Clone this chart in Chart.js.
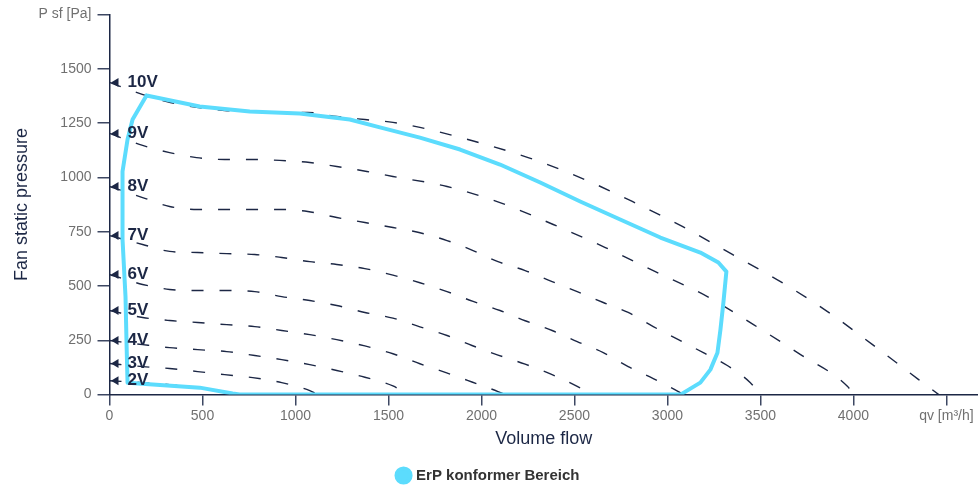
<!DOCTYPE html>
<html>
<head>
<meta charset="utf-8">
<script src="https://cdn.jsdelivr.net/npm/chart.js@4.4.1/dist/chart.umd.min.js"></script>
<style>
  html, body { margin: 0; padding: 0; background: #ffffff; }
  #wrap { width: 978px; height: 487px; position: relative; }
</style>
</head>
<body>
<div id="wrap"><canvas id="c"></canvas></div>
<script>
// ---- data (volume flow m³/h, static pressure Pa) ----
const curveLabels = ['2V', '3V', '4V', '5V', '6V', '7V', '8V', '9V', '10V'];
const curve2V = [[0,64],[178,55],[323,46],[474,32],[600,14],[680,0]];
const curve3V = [[0,143],[178,129],[323,120],[474,106],[619,92],[770,78],[926,55],[1077,18],[1120,0]];
const curve4V = [[0,249],[178,230],[323,216],[474,207],[630,198],[781,180],[926,161],[1077,138],[1222,111],[1373,80],[1524,40],[1605,0]];
const curve5V = [[0,387],[178,355],[323,341],[474,332],[630,322],[781,313],[926,295],[1077,276],[1222,253],[1373,224],[1524,188],[1669,142],[1813,100],[1949,58],[2089,14],[2127,0]];
const curve6V = [[0,553],[178,507],[323,484],[474,479],[630,479],[781,474],[926,451],[1077,433],[1222,410],[1373,378],[1524,352],[1669,312],[1815,272],[1949,226],[2089,182],[2235,140],[2380,92],[2515,38],[2596,0]];
const curve7V = [[0,732],[178,691],[323,659],[474,654],[630,649],[781,645],[926,631],[1077,612],[1222,599],[1373,580],[1524,550],[1669,515],[1815,474],[1955,429],[2100,387],[2235,340],[2380,295],[2515,244],[2655,193],[2789,129],[2924,74],[3059,14],[3086,0]];
const curve8V = [[0,958],[178,907],[323,866],[474,852],[630,852],[770,852],[926,852],[1066,843],[1222,815],[1373,792],[1524,769],[1664,746],[1815,709],[1955,663],[2089,612],[2235,571],[2380,520],[2515,474],[2655,424],[2789,378],[2924,313],[3059,253],[3193,193],[3322,134],[3446,55],[3500,0]];
const curve9V = [[0,1202],[178,1147],[323,1114],[468,1091],[619,1082],[770,1082],[915,1078],[1077,1068],[1222,1050],[1384,1027],[1524,1004],[1815,958],[2111,880],[2386,783],[2666,677],[2935,566],[3215,451],[3463,322],[3716,184],[3969,37],[4001,0]];
const curve10V = [[0,1437],[145,1391],[307,1349],[468,1322],[619,1308],[770,1303],[915,1299],[1066,1299],[1222,1280],[1373,1266],[1524,1253],[1669,1230],[1966,1165],[2251,1091],[2531,999],[2811,889],[3080,774],[3349,645],[3608,520],[3861,382],[4103,230],[4351,69],[4459,0]];
const erpLabel = 'ErP konformer Bereich';
const erpArea = [[199,1377],[124,1266],[97,1174],[70,1027],[70,714],[86,451],[92,221],[97,55],[485,32],[662,5],[700,0],[3070,0],[3177,55],[3231,115],[3269,193],[3285,299],[3301,424],[3317,566],[3274,608],[3177,654],[2962,723],[2746,806],[2531,889],[2316,976],[2100,1059],[1885,1128],[1669,1183],[1454,1230],[1292,1266],[1023,1294],[754,1303],[485,1326],[199,1377]];
const xTickValues = [0, 500, 1000, 1500, 2000, 2500, 3000, 3500, 4000, 4500];
const yTickValues = [0, 250, 500, 750, 1000, 1250, 1500, 1750];
const xTitle = 'Volume flow';
const yTitle = 'Fan static pressure';
const xUnitTick = 'qv [m³/h]';
const yUnitTick = 'P sf [Pa]';
const xUnitValue = 4500;
const yUnitValue = 1750;

const curves = [curve2V, curve3V, curve4V, curve5V, curve6V, curve7V, curve8V, curve9V, curve10V];

const NAVY = '#1c2745';
const CYAN = '#5cdcfd';
const FONT = '"Liberation Sans", Arial, sans-serif';

const toXY = arr => arr.map(p => ({ x: p[0], y: p[1] }));

const datasets = [{
  label: erpLabel,
  data: toXY(erpArea),
  showLine: true,
  borderColor: CYAN,
  backgroundColor: CYAN,
  borderWidth: 4,
  pointRadius: 0,
  tension: 0,
  fill: false,
  order: 0,
  borderJoinStyle: 'round',
  borderCapStyle: 'round'
}];
curves.forEach((c, i) => {
  datasets.push({
    label: curveLabels[i],
    data: toXY(c),
    showLine: true,
    borderColor: NAVY,
    backgroundColor: NAVY,
    borderWidth: 1.4,
    borderDash: [12, 16],
    pointRadius: 0,
    cubicInterpolationMode: 'monotone',
    fill: false,
    order: 1,
    isCurve: true
  });
});

const curveLabelPlugin = {
  id: 'curveLabels',
  afterDatasetsDraw(chart) {
    const ctx = chart.ctx;
    const xs = chart.scales.x, ys = chart.scales.y;
    ctx.save();
    chart.data.datasets.forEach(ds => {
      if (!ds.isCurve) return;
      const p0 = ds.data[0];
      const px = xs.getPixelForValue(p0.x);
      const py = ys.getPixelForValue(p0.y);
      ctx.fillStyle = NAVY;
      ctx.beginPath();
      ctx.moveTo(px + 1.5, py);
      ctx.lineTo(px + 9, py - 4.5);
      ctx.lineTo(px + 9, py + 4.5);
      ctx.closePath();
      ctx.fill();
      ctx.font = 'bold 17px ' + FONT;
      ctx.textBaseline = 'middle';
      ctx.textAlign = 'left';
      ctx.fillText(ds.label, px + 18, py);
    });
    ctx.restore();
  }
};

new Chart(document.getElementById('c'), {
  type: 'scatter',
  data: { datasets },
  plugins: [curveLabelPlugin],
  options: {
    responsive: true,
    maintainAspectRatio: false,
    animation: false,
    layout: { padding: { top: 14, right: 0, left: 0, bottom: -6 } },
    plugins: {
      tooltip: { enabled: false },
      legend: {
        position: 'bottom',
        labels: {
          filter: item => item.text === erpLabel,
          usePointStyle: true,
          pointStyle: 'circle',
          boxWidth: 10,
          boxHeight: 10,
          padding: 3,
          color: '#333333',
          font: { family: FONT, size: 15, weight: 'bold' }
        }
      }
    },
    scales: {
      x: {
        type: 'linear',
        min: 0,
        max: 4670,
        afterBuildTicks: s => { s.ticks = xTickValues.map(v => ({ value: v })); },
        border: { display: true, color: NAVY, width: 1.5 },
        grid: { drawOnChartArea: false, drawTicks: true, tickLength: 11, color: '#3d4762', lineWidth: 1.5 },
        ticks: {
          autoSkip: false,
          maxRotation: 0,
          padding: 2,
          color: '#707070',
          font: { family: FONT, size: 14 },
          callback: v => (v === xUnitValue ? xUnitTick : String(v))
        },
        title: {
          display: true,
          text: xTitle,
          color: NAVY,
          font: { family: FONT, size: 18 },
          padding: { top: 2, bottom: 15 }
        }
      },
      y: {
        type: 'linear',
        min: 0,
        max: 1750,
        afterBuildTicks: s => { s.ticks = yTickValues.map(v => ({ value: v })); },
        border: { display: true, color: NAVY, width: 1.5 },
        grid: { drawOnChartArea: false, drawTicks: true, tickLength: 12, color: '#3d4762', lineWidth: 1.5 },
        ticks: {
          autoSkip: false,
          padding: 6,
          color: '#707070',
          font: { family: FONT, size: 14 },
          callback: v => (v === yUnitValue ? yUnitTick : String(v))
        },
        title: {
          display: true,
          text: yTitle,
          color: NAVY,
          font: { family: FONT, size: 18 },
          padding: { top: 11, bottom: 0 }
        }
      }
    }
  }
});
</script>
</body>
</html>
